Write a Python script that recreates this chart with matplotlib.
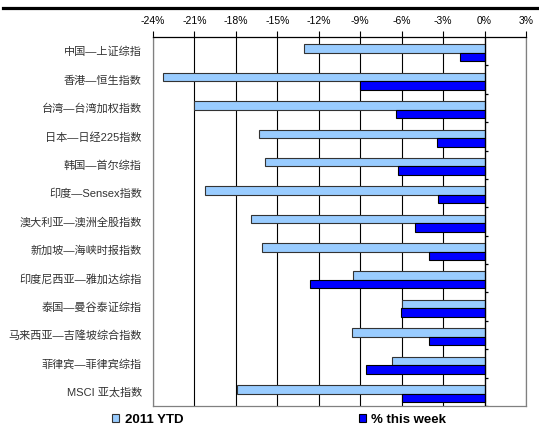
import numpy as np
import matplotlib
matplotlib.use('Agg')
import matplotlib.pyplot as plt
from matplotlib.lines import Line2D
from matplotlib.ticker import FuncFormatter, MultipleLocator

plt.rcParams['font.family'] = ['Liberation Sans', 'Noto Sans CJK SC', 'DejaVu Sans']

# data (percent)
markets = ['中国—上证综指', '香港—恒生指数', '台湾—台湾加权指数', '日本—日经225指数',
           '韩国—首尔综指', '印度—Sensex指数', '澳大利亚—澳洲全股指数', '新加坡—海峡时报指数',
           '印度尼西亚—雅加达综指', '泰国—曼谷泰证综指', '马来西亚—吉隆坡综合指数',
           '菲律宾—菲律宾综指', 'MSCI 亚太指数']
ytd_2011 = [-13.1, -23.25, -21.0, -16.3, -15.9, -20.2, -16.9, -16.1, -9.5, -6.0, -9.6, -6.7, -17.9]
this_week = [-1.75, -9.05, -6.4, -3.45, -6.3, -3.4, -5.0, -4.05, -12.6, -6.05, -4.05, -8.6, -6.0]
series_names = ['2011 YTD', '% this week']

fig = plt.figure(figsize=(5.39, 4.28), dpi=100)
ax = fig.add_axes([153/539, 22/428, 373/539, 369/428])

y = np.arange(len(markets))
h = 0.3
ax.barh(y - 0.09, ytd_2011, height=h, color='#99CCFF', edgecolor='#333333',
        linewidth=0.8, label=series_names[0], zorder=2)
ax.barh(y + 0.21, this_week, height=h, color='#0000FF', edgecolor='#000000',
        linewidth=0.8, label=series_names[1], zorder=2)

ax.set_xlim(-24, 3)
ax.set_ylim(len(markets) - 0.5, -0.5)

# top x axis with percent labels
ax.xaxis.set_major_locator(MultipleLocator(3))
ax.xaxis.set_major_formatter(FuncFormatter(lambda v, p: '{:.0f}%'.format(v)))
ax.xaxis.tick_top()
ax.tick_params(axis='x', direction='out', length=4, width=0.8, pad=4,
               labelsize=7.5, colors='black')
ax.grid(axis='x', color='black', linewidth=0.8, zorder=0)
ax.set_axisbelow(True)

ax.set_yticks(y)
ax.set_yticklabels(markets, fontsize=8, color='#333333')
ax.tick_params(axis='y', length=0, pad=8)

for s in ['left', 'right', 'bottom']:
    ax.spines[s].set_color('#808080')
    ax.spines[s].set_linewidth(0.9)
ax.spines['top'].set_color('black')
ax.spines['top'].set_linewidth(0.9)

# category axis at 0% with small tick marks between categories
ax.axvline(0, color='black', linewidth=0.9, zorder=3)
ax.hlines(y + 0.5, 0, 0.25, color='black', linewidth=0.9, zorder=3)

# legend below
leg = fig.legend(loc='center', bbox_to_anchor=(0.518, 0.019), ncol=2, frameon=False,
                 prop={'weight': 'bold', 'size': 9.5}, handlelength=0.55,
                 handleheight=0.55, handletextpad=0.4, columnspacing=13.3,
                 borderpad=0)

# thick rule at the top
fig.add_artist(Line2D([3/539, 1], [1 - 7.5/428, 1 - 7.5/428], color='black',
                      linewidth=2.3, transform=fig.transFigure))

fig.savefig('out.png', dpi=100)
